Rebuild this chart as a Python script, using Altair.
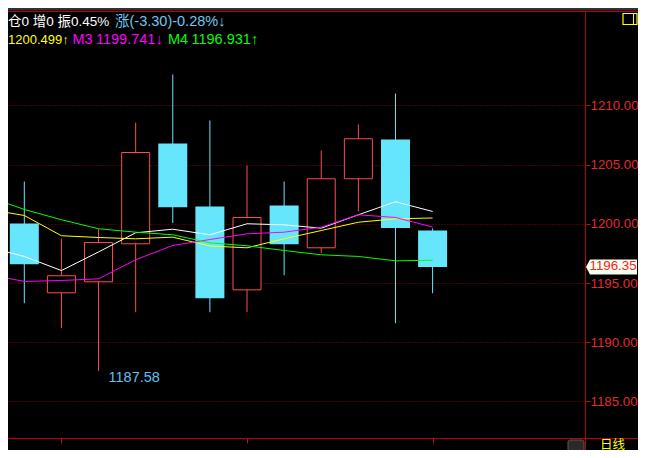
import altair as alt
import pandas as pd

# ---------------- data ----------------
candle_idx = list(range(12))
opens  = [1200.03, 1194.18, 1195.11, 1198.32, 1206.79, 1201.47, 1194.43, 1201.55, 1197.98, 1203.81, 1207.13, 1199.44]
highs  = [1203.58, 1198.77, 1199.55, 1208.56, 1212.62, 1208.73, 1204.93, 1203.58, 1206.20, 1208.40, 1211.01, 1199.61]
lows   = [1193.30, 1191.19, 1187.58, 1192.54, 1200.06, 1192.54, 1192.54, 1195.67, 1197.53, 1201.07, 1191.61, 1194.15]
closes = [1196.60, 1195.62, 1198.43, 1206.03, 1201.41, 1193.72, 1200.54, 1198.29, 1203.81, 1207.19, 1199.65, 1196.35]

ma_idx = list(range(-1, 12))
ma1 = [1198.06, 1197.25, 1196.06, 1197.63, 1199.25, 1199.55, 1199.08, 1200.01, 1199.92, 1199.64, 1200.77, 1201.87, 1201.05]
ma2 = [1201.24, 1200.71, 1199.00, 1198.85, 1198.74, 1198.88, 1198.13, 1197.98, 1198.74, 1199.44, 1200.14, 1200.43, 1200.50]
ma3 = [1195.73, 1195.14, 1195.22, 1195.36, 1196.97, 1198.18, 1198.68, 1199.16, 1199.30, 1199.72, 1200.77, 1200.54, 1199.74]
ma4 = [1202.31, 1201.22, 1200.35, 1199.59, 1199.30, 1199.08, 1198.40, 1198.15, 1197.75, 1197.39, 1197.25, 1196.88, 1196.93]
ma_names = ["M1", "M2", "M3", "M4"]

y_ticks = [1185, 1190, 1195, 1200, 1205, 1210]
x_ticks = [1, 6, 11]

header_info = "仓0 增0 振0.45%"
header_change = "涨(-3.30)-0.28%↓"
m2_value = "1200.499↑"
m3_name, m3_value = "M3", "1199.741↓"
m4_name, m4_value = "M4", "1196.931↑"
period_text = "日线"

# ---------------- styles ----------------
FONT = "Liberation Sans, Noto Sans CJK SC, sans-serif"
CYAN = "#66E6FC"
RED = "#FF4C4C"
AXIS_RED = "#C01010"
LABEL_RED = "#E02C2C"
GRID = "#8B0000"
MA_COLORS = ["#FFFFFF", "#FFFF00", "#FF00FF", "#00FF00"]

W, H = 578, 427          # plot area (page x 8..586, y 11..438)
X = alt.Scale(domain=[-0.3045, 14.998], nice=False, zero=False)
Y = alt.Scale(domain=[1181.917, 1217.98], nice=False, zero=False)

xaxis = alt.Axis(orient="bottom", values=x_ticks, labels=False, ticks=True, tickSize=5,
                 tickColor=AXIS_RED, domain=False, grid=False, title=None)
yaxis = alt.Axis(orient="right", values=y_ticks, format=".2f", labelColor=LABEL_RED,
                 labelFont=FONT, labelFontSize=13.3, labelPadding=0, tickSize=4,
                 tickColor=AXIS_RED, domain=False, grid=True, gridColor=GRID,
                 gridDash=[1, 2], gridWidth=1, title=None, labelOverlap=False)


def XF(field):
    return alt.X(field, type="quantitative", scale=X, axis=xaxis)


def YF(field):
    return alt.Y(field, type="quantitative", scale=Y, axis=yaxis)


# ---------------- frames ----------------
df = pd.DataFrame({"i": candle_idx, "open": opens, "high": highs, "low": lows, "close": closes})
df["lo"] = df[["open", "close"]].min(axis=1)
df["hi"] = df[["open", "close"]].max(axis=1)
up = df[df["close"] >= df["open"]]
down = df[df["close"] < df["open"]]
low_pt = df.loc[[df["low"].idxmin()]]
last_pt = df.iloc[[-1]]

ma = pd.concat(
    [pd.DataFrame({"i": ma_idx, "v": vals, "s": name})
     for name, vals in zip(ma_names, [ma1, ma2, ma3, ma4])],
    ignore_index=True,
)

one = pd.DataFrame({"k": [0]})


def text_at(txt, x, y, color, size=14.5, align="left", baseline="alphabetic"):
    return alt.Chart(one).mark_text(
        text=txt, align=align, baseline=baseline, fontSize=size, font=FONT, color=color
    ).encode(x=alt.value(x), y=alt.value(y))


def hline(x1, x2, y, color):
    return alt.Chart(one).mark_rule(color=color, strokeWidth=1).encode(
        x=alt.value(x1), x2=alt.value(x2), y=alt.value(y))


def vline(x, y1, y2, color):
    return alt.Chart(one).mark_rule(color=color, strokeWidth=1).encode(
        x=alt.value(x), y=alt.value(y1), y2=alt.value(y2))


# ---------------- candles ----------------
wick_down = alt.Chart(down).mark_rule(color=CYAN, strokeWidth=1).encode(
    x=XF("i"), y=YF("low"), y2="high:Q")
wick_up = alt.Chart(up).mark_rule(color=RED, strokeWidth=1).encode(
    x=XF("i"), y=YF("low"), y2="high:Q")
body_down = alt.Chart(down).mark_bar(size=29, color=CYAN, orient="vertical").encode(
    x=XF("i"), y=YF("lo"), y2="hi:Q")
body_up = alt.Chart(up).mark_bar(size=28, fill="#000000", stroke=RED, strokeWidth=1,
                                 orient="vertical").encode(
    x=XF("i"), y=YF("lo"), y2="hi:Q")

lines = alt.Chart(ma).mark_line(strokeWidth=1, clip=True).encode(
    x=XF("i"),
    y=YF("v"),
    color=alt.Color("s:N", scale=alt.Scale(domain=ma_names, range=MA_COLORS), legend=None),
    detail="s:N",
)

low_label = alt.Chart(low_pt).mark_text(
    align="left", baseline="middle", dx=10, dy=7, fontSize=14.5, font=FONT, color="#5BC4F0"
).encode(x=XF("i"), y=YF("low"), text=alt.Text("low:Q", format=".2f"))

price_box = alt.Chart(last_pt).mark_point(
    shape="M -1 0 L -0.843 -0.294 L 1 -0.294 L 1 0.294 L -0.843 0.294 Z",
    size=2601, filled=True, fill="#F4FFF0", opacity=1, strokeWidth=0,
).encode(x=alt.value(603.5), y=YF("close"))
price_text = alt.Chart(last_pt).mark_text(
    align="center", baseline="middle", dy=-1, fontSize=13.3, font=FONT, color="#FF2020"
).encode(x=alt.value(605), y=YF("close"), text=alt.Text("close:Q", format=".2f"))

# ---------------- frame decorations ----------------
top_bar = alt.Chart(one).mark_rect(color="#2E323B").encode(
    x=alt.value(-8), x2=alt.value(640), y=alt.value(-11), y2=alt.value(-0.5))
decor = [
    top_bar,
    hline(-8, 640, 0.5, "#C00000"),
    hline(-8, 640, 427.5, "#C00000"),
    vline(577.5, 0, 447, "#C00000"),
    alt.Chart(one).mark_rect(fill="#000000", stroke="#FFFF00", strokeWidth=1.2).encode(
        x=alt.value(615), x2=alt.value(629), y=alt.value(2.5), y2=alt.value(13.5)),
    vline(625.5, 2.5, 13.5, "#FFFF00"),
    alt.Chart(one).mark_rect(fill="#2A2A2A", stroke="#5A5A5A", strokeWidth=1, cornerRadius=2).encode(
        x=alt.value(560), x2=alt.value(576), y=alt.value(429), y2=alt.value(441)),
    text_at(period_text, 604.5, 433.5, "#FFFF00", size=12.5, align="center", baseline="middle"),
]

header = [
    text_at(header_info, 0, 15, "#FFFFFF", size=13.5),
    text_at(header_change, 107, 15, "#6CC8F4"),
    text_at(m2_value, 0, 32.5, "#FFFF00", size=13),
    text_at(m3_name, 64.5, 32.5, "#FF00FF"),
    text_at(m3_value, 88, 32.5, "#FF00FF"),
    text_at(m4_name, 160, 32.5, "#00FF00"),
    text_at(m4_value, 183.5, 32.5, "#00FF00"),
]

chart = alt.layer(
    wick_down, wick_up, body_down, body_up, lines, low_label,
    *decor, price_box, price_text, *header,
).properties(
    width=W,
    height=H,
    background="#000000",
    padding={"left": 0, "top": 3, "right": 52, "bottom": 12},
    autosize=alt.AutoSizeParams(type="none"),
).configure_view(stroke=None)

chart.save("out.html", embed_options={"renderer": "svg", "actions": False})
